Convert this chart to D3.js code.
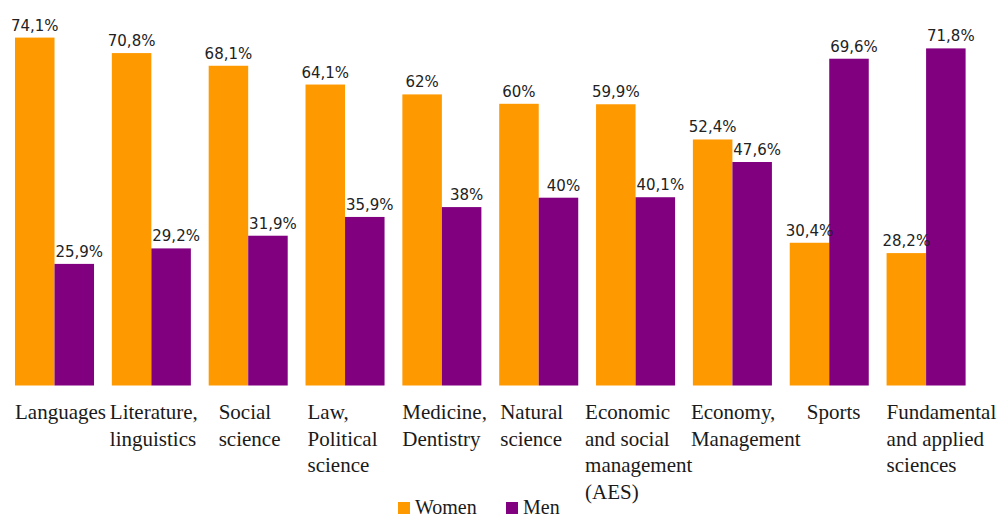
<!DOCTYPE html>
<meta charset="utf-8"/>
<html>
  <head>
    <script src="https://d3js.org/d3.v7.min.js"></script>
    <style>
      body { margin: 0; background: #fff; }
    </style>
  </head>
  <body>
<script type="text/javascript">
var categories = ['Languages', 'Literature, linguistics', 'Social science', 'Law, Political science',
  'Medicine, Dentistry', 'Natural science', 'Economic and social management (AES)',
  'Economy, Management', 'Sports', 'Fundamental and applied sciences'];
var categoryLines = [
  ['Languages'],
  ['Literature,', 'linguistics'],
  ['Social', 'science'],
  ['Law,', 'Political', 'science'],
  ['Medicine,', 'Dentistry'],
  ['Natural', 'science'],
  ['Economic', 'and social', 'management', '(AES)'],
  ['Economy,', 'Management'],
  ['Sports'],
  ['Fundamental', 'and applied', 'sciences']
];
var series = ['Women', 'Men'];
var women = [74.1, 70.8, 68.1, 64.1, 62, 60, 59.9, 52.4, 30.4, 28.2];
var men = [25.9, 29.2, 31.9, 35.9, 38, 40, 40.1, 47.6, 69.6, 71.8];

var width = 1006;
var height = 519;
var colors = {Women: '#ff9900', Men: '#800080'};
// small nudges of the wrapped category labels, as in the original
var labelShift = [0, -2, 10, 2, 0, 1, -11, -2, 17, 0];

var svg = d3.select('body').append('svg')
    .attr('width', width)
    .attr('height', height);

var x0 = d3.scaleBand()
    .domain(categories)
    .range([15, 965.6])
    .paddingInner(0.184)
    .paddingOuter(0);
var x1 = d3.scaleBand()
    .domain(series)
    .range([0, x0.bandwidth()]);
var y = d3.scaleLinear()
    .domain([0, 82])
    .range([385.5, 0.5]);

var rows = categories.map(function(c, i) {
  return {cat: c, i: i, vals: [{key: 'Women', v: women[i]}, {key: 'Men', v: men[i]}]};
});

function fmt(v) {
  return (Math.round(v) === v ? String(v) : v.toFixed(1).replace('.', ',')) + '%';
}

var groups = svg.append('g')
  .selectAll('g')
  .data(rows)
  .enter()
  .append('g')
    .attr('transform', function(d) { return 'translate(' + x0(d.cat) + ',0)'; });

groups.selectAll('rect')
  .data(function(d) { return d.vals; })
  .enter()
  .append('rect')
    .attr('x', function(d) { return x1(d.key); })
    .attr('y', function(d) { return y(d.v); })
    .attr('width', x1.bandwidth())
    .attr('height', function(d) { return y(0) - y(d.v); })
    .attr('fill', function(d) { return colors[d.key]; });

groups.selectAll('text.val')
  .data(function(d) { return d.vals; })
  .enter()
  .append('text')
    .attr('class', 'val')
    .attr('x', function(d) { return x1(d.key) + x1.bandwidth() / 2 + (d.key === 'Men' ? 5 : 0); })
    .attr('y', function(d) { return y(d.v) - 7; })
    .attr('text-anchor', 'middle')
    .style('font-family', 'DejaVu Sans')
    .style('font-size', '15px')
    .style('fill', '#222')
    .text(function(d) { return fmt(d.v); });

// category labels under the bars
groups.append('text')
    .attr('class', 'cat')
    .attr('x', function(d) { return labelShift[d.i]; })
    .attr('y', 419)
    .style('font-family', 'Liberation Serif')
    .style('font-size', '21px')
    .style('fill', '#1a1a1a')
  .selectAll('tspan')
  .data(function(d) { return categoryLines[d.i]; })
  .enter()
  .append('tspan')
    .attr('x', function() { return labelShift[d3.select(this.parentNode).datum().i]; })
    .attr('dy', function(d, j) { return j === 0 ? 0 : 26.5; })
    .text(function(d) { return d; });

// legend
var legend = svg.append('g');
var legendX = {Women: 398, Men: 506};
series.forEach(function(s) {
  legend.append('rect')
      .attr('x', legendX[s])
      .attr('y', 502)
      .attr('width', 12)
      .attr('height', 12)
      .attr('fill', colors[s]);
  legend.append('text')
      .attr('x', legendX[s] + 17)
      .attr('y', 514)
      .style('font-family', 'Liberation Serif')
      .style('font-size', '20px')
      .style('fill', '#1a1a1a')
      .text(s);
});
</script>
  </body>
</html>
